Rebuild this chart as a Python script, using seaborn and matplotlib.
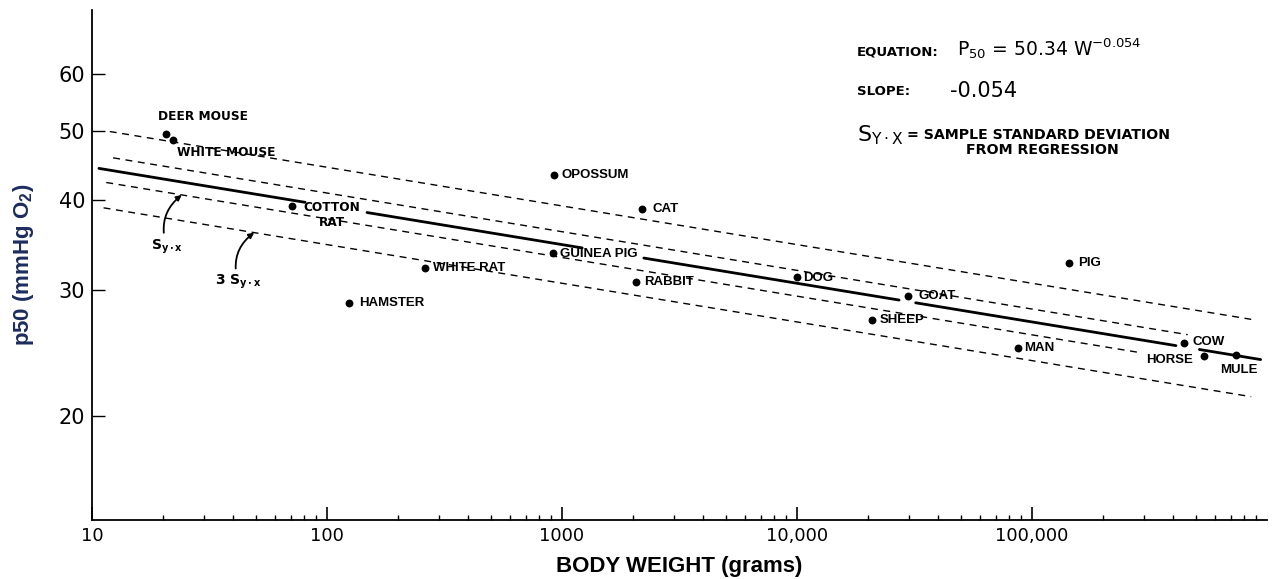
import numpy as np
import pandas as pd
import matplotlib
matplotlib.use("Agg")
import matplotlib.pyplot as plt
import seaborn as sns

# ---------------- data ----------------
species = ["DEER MOUSE", "WHITE MOUSE", "COTTON\nRAT", "HAMSTER", "WHITE RAT",
           "OPOSSUM", "GUINEA PIG", "CAT", "RABBIT", "DOG", "SHEEP", "GOAT",
           "MAN", "PIG", "COW", "HORSE", "MULE"]
weight_g = [20.6, 22.2, 71.3, 124, 262,
            923, 917, 2196, 2070, 10000, 20800, 29600,
            87400, 144000, 445000, 542000, 740000]
p50_mmHg = [49.4, 48.6, 39.3, 28.7, 32.2,
            43.4, 33.7, 38.9, 30.7, 31.2, 27.2, 29.4,
            24.9, 32.7, 25.3, 24.2, 24.3]

eq_coef = 50.34          # P50 = 50.34 W^-0.054
eq_exp = -0.054
s_yx_log = 0.018         # sample std deviation from regression (log10 units)

# weight ranges (g) over which the regression line is drawn (gaps at labels)
reg_segments = [(10.7, 80.7), (148, 1219), (2230, 27200), (32000, 410000), (516000, 940000)]
# confidence bands: multiple of S_yx and weight range drawn
band_mult = [3, 1, -1, -3]
band_ranges = [(11.9, 857000), (12.3, 460000), (11.5, 291000), (11.2, 857000)]

x_ticks = [10, 100, 1000, 10000, 100000]
x_tick_labels = ["10", "100", "1000", "10,000", "100,000"]
y_ticks = [20, 30, 40, 50, 60]
y_tick_labels = ["20", "30", "40", "50", "60"]

# ---------------- layout (label offsets in points) ----------------
label_offsets = {
    "DEER MOUSE": (-5.5, 12.7, "left"),
    "WHITE MOUSE": (2.9, -9.6, "left"),
    "COTTON\nRAT": (28.6, -6.6, "center"),
    "HAMSTER": (7, 0, "left"),
    "WHITE RAT": (5.8, 0, "left"),
    "OPOSSUM": (5.5, 0, "left"),
    "GUINEA PIG": (5.3, -0.5, "left"),
    "CAT": (7.2, 0, "left"),
    "RABBIT": (6, 0, "left"),
    "DOG": (4.6, -0.5, "left"),
    "SHEEP": (5.8, 0, "left"),
    "GOAT": (8, 0, "left"),
    "MAN": (4, 0, "left"),
    "PIG": (6.3, 0, "left"),
    "COW": (6, 0.5, "left"),
    "HORSE": (-8.4, -2.4, "right"),
    "MULE": (2.2, -10.6, "center"),
}
lettered = {"DEER MOUSE", "WHITE MOUSE", "COTTON\nRAT"}

# ---------------- build tables ----------------
pts = pd.DataFrame({"species": species, "weight": weight_g, "p50": p50_mmHg})

def model(w):
    return eq_coef * np.asarray(w, dtype=float) ** eq_exp

reg_rows = []
for i, (a, b) in enumerate(reg_segments):
    w = np.geomspace(a, b, 50)
    reg_rows.append(pd.DataFrame({"weight": w, "p50": model(w), "seg": i}))
reg_df = pd.concat(reg_rows, ignore_index=True)

band_rows = []
for i, (m, (a, b)) in enumerate(zip(band_mult, band_ranges)):
    w = np.geomspace(a, b, 60)
    band_rows.append(pd.DataFrame({"weight": w, "p50": model(w) * 10 ** (m * s_yx_log), "seg": i}))
band_df = pd.concat(band_rows, ignore_index=True)

# ---------------- plot ----------------
sns.set_theme(style="white")
plt.rcParams["font.family"] = ["DejaVu Sans"]
plt.rcParams.update({"text.color": "black", "axes.labelcolor": "black",
                     "xtick.color": "black", "ytick.color": "black",
                     "axes.edgecolor": "black"})

fig = plt.figure(figsize=(12.76, 5.79), dpi=100)
ax = fig.add_axes([0.0721, 0.1019, 0.9208, 0.8808])
ax.set_xscale("log")
ax.set_yscale("log")

sns.lineplot(data=band_df, x="weight", y="p50", units="seg", estimator=None, sort=False,
             color="black", lw=1.0, linestyle=(0, (5, 4)), ax=ax, legend=False)
sns.lineplot(data=reg_df, x="weight", y="p50", units="seg", estimator=None, sort=False,
             color="black", lw=2.0, ax=ax, legend=False)
sns.scatterplot(data=pts, x="weight", y="p50", color="black", s=32, linewidth=0,
                ax=ax, legend=False, zorder=5)

for sp, w, p in zip(species, weight_g, p50_mmHg):
    dx, dy, ha = label_offsets[sp]
    if sp in lettered:
        kw = dict(family="DejaVu Sans", fontsize=8.7, fontweight="bold")
    else:
        kw = dict(family="Liberation Sans", fontsize=9.5, fontweight="bold")
    ax.annotate(sp, xy=(w, p), xytext=(dx, dy), textcoords="offset points",
                ha=ha, va="center", multialignment="center", color="black", **kw)

# band annotations with curved arrows
w1 = 24.1
ax.annotate(r"S$_{\mathbf{y\cdot x}}$", xy=(w1, model(w1) * 10 ** (-s_yx_log)),
            xytext=(-10.8, -37.2), textcoords="offset points",
            ha="center", va="center", fontsize=10, fontweight="bold",
            arrowprops=dict(arrowstyle="-|>", connectionstyle="arc3,rad=-0.35",
                            color="black", lw=1.3, shrinkA=1, shrinkB=0, mutation_scale=8))
w3 = 49.0
ax.annotate(r"3 S$_{\mathbf{y\cdot x}}$", xy=(w3, model(w3) * 10 ** (-3 * s_yx_log)),
            xytext=(-11.5, -35.8), textcoords="offset points",
            ha="center", va="center", fontsize=10, fontweight="bold",
            arrowprops=dict(arrowstyle="-|>", connectionstyle="arc3,rad=-0.35",
                            color="black", lw=1.3, shrinkA=1, shrinkB=0, mutation_scale=8))

# equation block
tr = ax.transAxes
ax.text(0.6508, 0.910, "EQUATION:", transform=tr, fontsize=9.5, fontweight="bold", va="baseline")
ax.text(0.7359, 0.910, r"$\mathregular{P_{50}}$ = 50.34 W$^{\mathregular{-0.054}}$",
        transform=tr, fontsize=13.5, va="baseline")
ax.text(0.6508, 0.833, "SLOPE:", transform=tr, fontsize=9.5, fontweight="bold", va="baseline")
ax.text(0.7302, 0.830, "-0.054", transform=tr, fontsize=15, va="baseline")
ax.text(0.6508, 0.742, r"S$_{\mathregular{Y\cdot X}}$", transform=tr, fontsize=16, va="baseline")
ax.text(0.6934, 0.748, "= SAMPLE STANDARD DEVIATION", transform=tr, fontsize=10.2,
        fontweight="bold", va="baseline")
ax.text(0.8089, 0.7176, "FROM REGRESSION", transform=tr, fontsize=10.2,
        fontweight="bold", va="baseline", ha="center")

# axes
ax.set_xlim(10, 1e6)
ax.set_ylim(14.3, 73.7)
ax.set_xticks(x_ticks)
ax.set_xticklabels(x_tick_labels)
ax.xaxis.set_minor_locator(matplotlib.ticker.LogLocator(base=10, subs=np.arange(2, 10)))
ax.xaxis.set_minor_formatter(matplotlib.ticker.NullFormatter())
ax.set_yticks(y_ticks)
ax.set_yticklabels(y_tick_labels)
ax.yaxis.set_minor_locator(matplotlib.ticker.NullLocator())

ax.tick_params(axis="x", which="major", direction="in", length=9.5, width=1.2,
               labelsize=13, pad=5, bottom=True, colors="black")
ax.tick_params(axis="x", which="minor", direction="in", length=3.8, width=1.0, bottom=True,
               colors="black")
ax.tick_params(axis="y", which="major", direction="in", length=9, width=1.0,
               labelsize=15, pad=5, left=True, colors="black")

for s in ["top", "right"]:
    ax.spines[s].set_visible(False)
for s in ["left", "bottom"]:
    ax.spines[s].set_color("black")
    ax.spines[s].set_linewidth(1.3)

ax.set_xlabel("BODY WEIGHT (grams)", fontsize=16, fontweight="bold",
              family="Liberation Sans", labelpad=8, color="black")
ax.set_ylabel(r"p50 (mmHg O$_{\mathregular{2}}$)", fontsize=16, fontweight="bold",
              family="Liberation Sans", labelpad=16, color="#1c2c5e")
ax.grid(False)

fig.savefig("out.png", dpi=100, facecolor="white")
